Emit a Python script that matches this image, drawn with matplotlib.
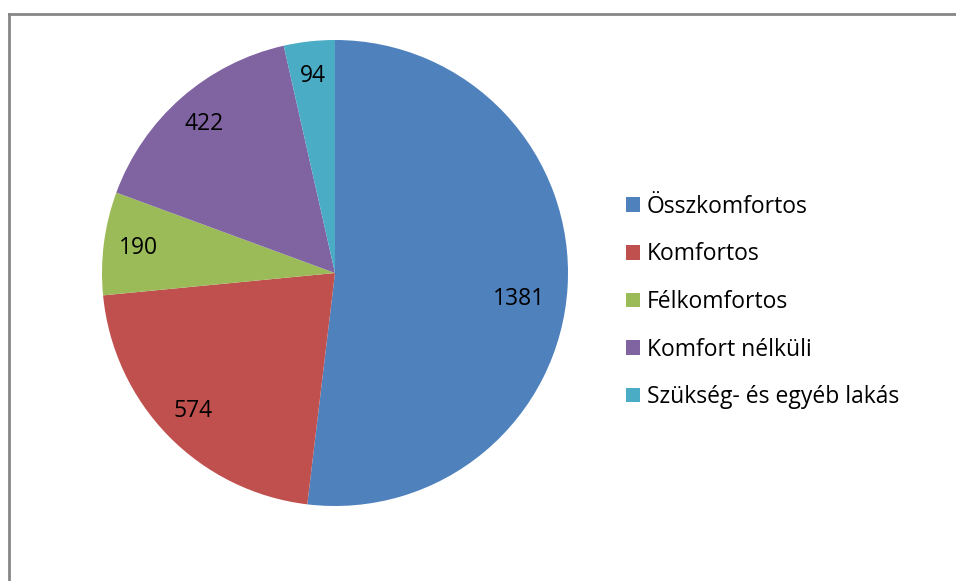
import matplotlib.pyplot as plt
from matplotlib.lines import Line2D
from matplotlib.patches import Patch

# data
categories = ['Összkomfortos', 'Komfortos', 'Félkomfortos', 'Komfort nélküli', 'Szükség- és egyéb lakás']
values = [1381, 574, 190, 422, 94]
colors = ['#4F81BD', '#C0504D', '#9BBB59', '#8064A2', '#4BACC6']

plt.rcParams['font.family'] = ['Open Sans', 'DejaVu Sans']

W, H = 956, 581
fig = plt.figure(figsize=(W / 100, H / 100), dpi=100)

# pie centre ~ (335, 273) px, radius ~233 px
cx, cy, r = 335, 273, 233
ax = fig.add_axes([(cx - r) / W, (H - cy - r) / H, 2 * r / W, 2 * r / H])
wedges, texts = ax.pie(values, colors=colors, startangle=90, counterclock=False,
                       labels=[str(v) for v in values], labeldistance=0.85,
                       wedgeprops=dict(linewidth=0))
for t in texts:
    t.set_ha('center')
    t.set_va('center')
    t.set_fontsize(16.5)
    t.set_color('black')
# excel puts the big slice label a bit lower/inward
texts[0].set_position((0.79, -0.11))
ax.set_aspect('equal')
ax.set_xlim(-1, 1)
ax.set_ylim(-1, 1)

# legend
handles = [Patch(facecolor=c, edgecolor='none') for c in colors]
fig.legend(handles, categories, loc='center left',
           bbox_to_anchor=(626 / W, (H - 302) / H), frameon=False,
           fontsize=16.5, handlelength=0.6, handleheight=0.6, handletextpad=0.3,
           labelspacing=1.03, borderpad=0, borderaxespad=0)

# chart frame (only top and left edges visible)
frame_col = '#868686'
fig.add_artist(Line2D([9 / W, 9 / W], [0, (H - 13.5) / H], transform=fig.transFigure,
                      color=frame_col, linewidth=2))
fig.add_artist(Line2D([9 / W, 1], [(H - 13.5) / H, (H - 13.5) / H], transform=fig.transFigure,
                      color=frame_col, linewidth=2))

fig.savefig('out.png', dpi=100)
